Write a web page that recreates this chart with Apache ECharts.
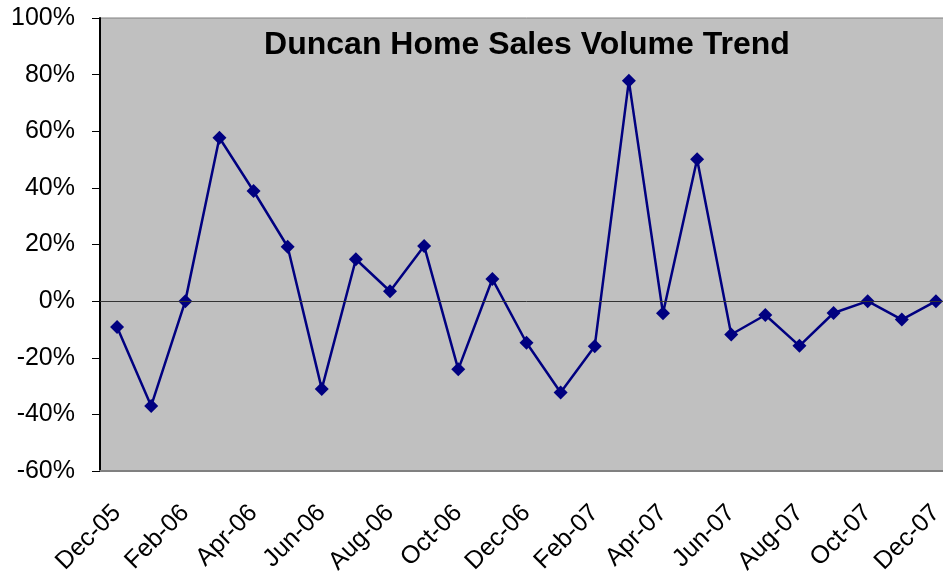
<!DOCTYPE html>
<html>
<head>
<meta charset="utf-8">
<script src="https://cdn.jsdelivr.net/npm/echarts@6/dist/echarts.min.js"></script>
<style>
html,body{margin:0;padding:0;background:#fff;overflow:hidden;}
#c{width:960px;height:579px;}
</style>
</head>
<body>
<div id="c"></div>
<script>
const categories = ["Dec-05","Jan-06","Feb-06","Mar-06","Apr-06","May-06","Jun-06","Jul-06","Aug-06","Sep-06","Oct-06","Nov-06","Dec-06","Jan-07","Feb-07","Mar-07","Apr-07","May-07","Jun-07","Jul-07","Aug-07","Sep-07","Oct-07","Nov-07","Dec-07"];
const volumeChange = [-9.1,-37,0,57.7,38.9,19.2,-31,14.8,3.5,19.5,-24.1,7.8,-14.7,-32.3,-15.9,77.8,-4.3,50.1,-11.8,-4.9,-15.8,-4.2,0,-6.5,0];
const yTicks = {min:-60, max:100, interval:20};
const titleText = "Duncan Home Sales Volume Trend";

const chart = echarts.init(document.getElementById('c'), null, {renderer:'canvas', width:960, height:579});
chart.setOption({
  animation:false,
  backgroundColor:'#ffffff',
  title:{
    text:titleText,
    left:522, textAlign:'center', top:24,
    textStyle:{fontFamily:'Liberation Sans, Arial', fontWeight:'bold', fontSize:32, color:'#000'}
  },
  grid:{left:100, right:7, top:18, bottom:108, show:true, backgroundColor:'#C0C0C0', borderColor:'#808080', borderWidth:1},
  xAxis:{
    type:'category', data:categories, boundaryGap:true,
    axisLine:{onZero:false, lineStyle:{color:'#808080', width:2}},
    axisTick:{show:false},
    axisLabel:{interval:1, rotate:45, margin:38, color:'#000', fontFamily:'Liberation Sans, Arial', fontSize:25},
    splitLine:{show:false}
  },
  yAxis:{
    type:'value', min:yTicks.min, max:yTicks.max, interval:yTicks.interval,
    axisLine:{show:true, lineStyle:{color:'#000', width:2}},
    axisTick:{show:true, length:8, lineStyle:{color:'#000', width:1}},
    axisLabel:{formatter:'{value}%', margin:25, color:'#000', fontFamily:'Liberation Sans, Arial', fontSize:25},
    splitLine:{show:false}
  },
  series:[{
    type:'line', data:volumeChange,
    symbol:'diamond', symbolSize:14,
    lineStyle:{color:'#000080', width:2.5},
    itemStyle:{color:'#000080'},
    markLine:{silent:true, symbol:'none', label:{show:false}, lineStyle:{color:'#333', width:1, type:'solid'}, data:[{yAxis:0}]},
    z:3
  }]
});
</script>
</body>
</html>
